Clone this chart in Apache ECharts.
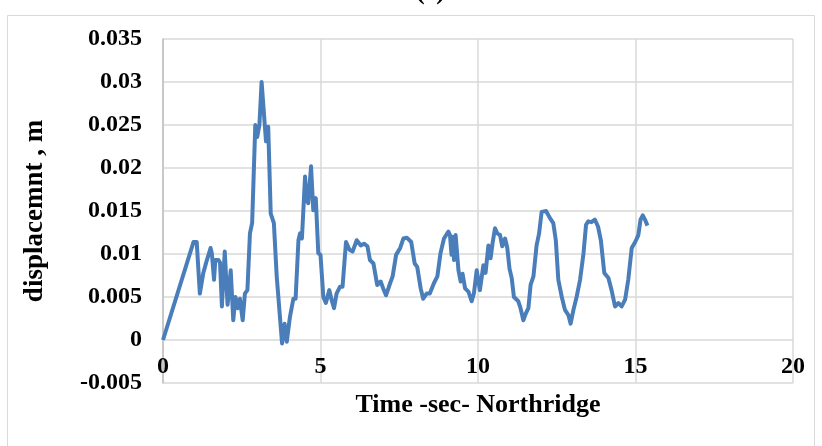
<!DOCTYPE html>
<html>
<head>
<meta charset="utf-8">
<script src="https://cdn.jsdelivr.net/npm/echarts@6/dist/echarts.min.js"></script>
<style>
  html, body { margin: 0; padding: 0; background: #fff; }
  #chart { width: 822px; height: 446px; }
</style>
</head>
<body>
<div id="chart"></div>
<script>
// time (s)
const timeSec = [
  0, 0.97, 1.07, 1.17, 1.28, 1.37, 1.51, 1.55, 1.62, 1.66, 1.76, 1.81, 1.87, 1.96,
  2.05, 2.15, 2.23, 2.30, 2.37, 2.44, 2.53, 2.60, 2.68, 2.76, 2.83, 2.93, 2.99,
  3.06, 3.13, 3.18, 3.27, 3.34, 3.42, 3.52, 3.61, 3.78, 3.86, 3.93, 4.03, 4.14,
  4.21, 4.30, 4.35, 4.41, 4.51, 4.56, 4.61, 4.70, 4.77, 4.85, 4.93, 5.00, 5.09,
  5.17, 5.28, 5.35, 5.43, 5.51, 5.62, 5.70, 5.81, 5.92, 6.02, 6.15, 6.20, 6.28,
  6.38, 6.49, 6.57, 6.68, 6.80, 6.91, 6.99, 7.08, 7.21, 7.29, 7.40, 7.53, 7.63,
  7.74, 7.80, 7.88, 7.99, 8.07, 8.18, 8.26, 8.37, 8.47, 8.60, 8.71, 8.81, 8.92,
  9.06, 9.11, 9.16, 9.20, 9.24, 9.29, 9.38, 9.45, 9.51, 9.59, 9.70, 9.80, 9.87,
  9.96, 10.06, 10.17, 10.24, 10.33, 10.40, 10.46, 10.54, 10.61, 10.70, 10.77,
  10.86, 10.93, 11.00, 11.07, 11.14, 11.28, 11.35, 11.44, 11.52, 11.60, 11.67,
  11.76, 11.86, 11.94, 12.02, 12.16, 12.28, 12.39, 12.47, 12.55, 12.66, 12.76,
  12.87, 12.94, 13.03, 13.13, 13.24, 13.35, 13.43, 13.50, 13.60, 13.71, 13.81,
  13.90, 14.01, 14.14, 14.24, 14.35, 14.46, 14.56, 14.67, 14.77, 14.88, 14.99,
  15.09, 15.16, 15.23, 15.30, 15.38
];
// displacement (m)
const displacement = [
  0, 0.0114, 0.0114, 0.0054, 0.0078, 0.0090, 0.0107, 0.0101, 0.0070, 0.0093, 0.0093, 0.0090, 0.0039, 0.0103,
  0.0041, 0.0081, 0.0023, 0.0050, 0.0037, 0.0048, 0.0023, 0.0054, 0.0058, 0.0124, 0.0136, 0.0250, 0.0236,
  0.0250, 0.0300, 0.0299, 0.0231, 0.0248, 0.0147, 0.0136, 0.0074, -0.0004, 0.0019, -0.0002, 0.0027, 0.0048,
  0.0048, 0.0116, 0.0124, 0.0118, 0.0190, 0.0163, 0.0159, 0.0202, 0.0151, 0.0165, 0.0101, 0.0099, 0.0050,
  0.0043, 0.0058, 0.0047, 0.0037, 0.0054, 0.0062, 0.0062, 0.0114, 0.0105, 0.0103, 0.0116, 0.0118, 0.0110,
  0.0112, 0.0109, 0.0093, 0.0089, 0.0064, 0.0068, 0.0060, 0.0052, 0.0066, 0.0074, 0.0099, 0.0107, 0.0118,
  0.0119, 0.0119, 0.0114, 0.0089, 0.0085, 0.0060, 0.0048, 0.0054, 0.0054, 0.0066, 0.0074, 0.0101, 0.0118,
  0.0126, 0.0122, 0.0099, 0.0120, 0.0093, 0.0122, 0.0081, 0.0068, 0.0077, 0.0060, 0.0056, 0.0045, 0.0054,
  0.0081, 0.0058, 0.0087, 0.0078, 0.0110, 0.0095, 0.0112, 0.0130, 0.0124, 0.0122, 0.0109,
  0.0118, 0.0107, 0.0083, 0.0072, 0.0050, 0.0045, 0.0037, 0.0023, 0.0031, 0.0037, 0.0064,
  0.0074, 0.0110, 0.0124, 0.0149, 0.0150, 0.0142, 0.0136, 0.0116, 0.0070, 0.0050, 0.0035,
  0.0029, 0.0019, 0.0035, 0.0050, 0.0070, 0.0101, 0.0134, 0.0138, 0.0137, 0.0140, 0.0132,
  0.0116, 0.0078, 0.0072, 0.0058, 0.0039, 0.0043, 0.0039, 0.0047, 0.0070, 0.0107, 0.0114,
  0.0122, 0.0140, 0.0145, 0.0140, 0.0133
];
const xTicks = [0, 5, 10, 15, 20];
const yTicks = [-0.005, 0, 0.005, 0.01, 0.015, 0.02, 0.025, 0.03, 0.035];

const font = "'Liberation Serif', 'Times New Roman', serif";
const chart = echarts.init(document.getElementById("chart"));

const options = {
  backgroundColor: "#fff",
  animation: false,
  graphic: [
    {
      type: "rect",
      shape: { x: 7.5, y: 15.5, width: 807, height: 460 },
      style: { fill: "none", stroke: "#d9d9d9", lineWidth: 1 },
    },
    {
      type: "text",
      left: 416,
      top: -21,
      style: { text: "(c)", font: "bold 26px " + font, fill: "#000" },
    },
  ],
  grid: { left: 163, right: 29, top: 39, bottom: 63, outerBoundsMode: "none", containLabel: false },
  xAxis: {
    type: "value",
    min: xTicks[0],
    max: xTicks[xTicks.length - 1],
    interval: 5,
    name: "Time -sec- Northridge",
    nameLocation: "middle",
    nameGap: 9,
    nameMoveOverlap: false,
    nameTextStyle: { fontFamily: font, fontWeight: "bold", fontSize: 26, color: "#000" },
    axisLine: { show: false, onZero: false },
    axisTick: { show: false },
    axisLabel: { margin: -28, fontFamily: font, fontWeight: "bold", fontSize: 24, color: "#000" },
    splitLine: { show: true, lineStyle: { color: "#d9d9d9", width: 1.5 } },
  },
  yAxis: {
    type: "value",
    min: yTicks[0],
    max: yTicks[yTicks.length - 1],
    interval: 0.005,
    name: "displacemnt , m",
    nameLocation: "middle",
    nameGap: 114,
    nameMoveOverlap: false,
    nameTextStyle: { fontFamily: font, fontWeight: "bold", fontSize: 27, color: "#000" },
    axisLine: { show: true, lineStyle: { color: "#bfbfbf", width: 1.5 } },
    axisTick: { show: false },
    axisLabel: {
      margin: 21,
      fontFamily: font,
      fontWeight: "bold",
      fontSize: 24,
      color: "#000",
      formatter: (v) => String(Math.round(v * 1000) / 1000),
    },
    splitLine: { show: true, lineStyle: { color: "#d9d9d9", width: 1.5 } },
  },
  series: [
    {
      type: "line",
      data: timeSec.map((t, i) => [t, displacement[i]]),
      showSymbol: false,
      smooth: false,
      lineStyle: { color: "#4a7ebb", width: 4, join: "round" },
    },
  ],
};

chart.setOption(options);
</script>
</body>
</html>
